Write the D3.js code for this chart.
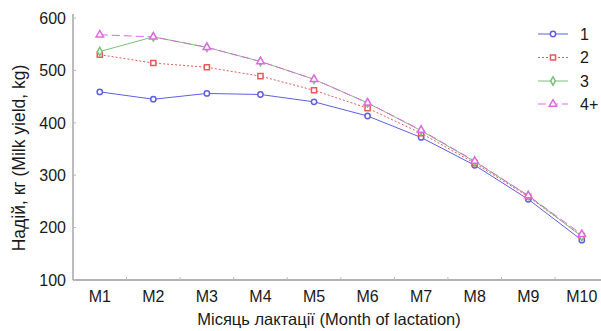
<!DOCTYPE html>
<html><head><meta charset="utf-8">
<script src="https://cdn.jsdelivr.net/npm/d3@7"></script>
<style>body{margin:0;background:#fff}svg{display:block}</style>
</head><body>
<svg id="c" width="601" height="331"></svg>
<script>
const categories = ["M1","M2","M3","M4","M5","M6","M7","M8","M9","M10"];
const seriesNames = ["1","2","3","4+"];
const s1 = [459,445,456,454,440,413,372,319,254,176];
const s2 = [530,514,506,489,462,428,380,323,259,184];
const s3 = [536,564,544,517,483,438,385,326,261,183];
const s4 = [568,564,544,517,483,438,386,327,261,187];
const yTicks = [100,200,300,400,500,600];
const colors = ["#5f5fe0","#e65a5a","#7cc07c","#e068e6"];
const dashes = [null,"2,2",null,"8,4"];
const symbols = [d3.symbolCircle,d3.symbolSquare,d3.symbolDiamond,d3.symbolTriangle];
const sizes = [22,26,20,24];
const seriesVals = [s1,s2,s3,s4];

const svg = d3.select("#c");
const font = "Liberation Sans, Arial, sans-serif";
const x = d3.scaleBand().domain(categories).range([73,608.6]);
const y = d3.scaleLinear().domain([100,600]).range([280,18]);
const cx = c => x(c) + x.bandwidth()/2;

// axes
svg.append("line").attr("x1",73).attr("x2",73).attr("y1",14).attr("y2",280).attr("stroke","#999").attr("stroke-width",1.3);
svg.append("line").attr("x1",73).attr("x2",601).attr("y1",280).attr("y2",280).attr("stroke","#999").attr("stroke-width",1.3);
categories.slice(1).forEach(c=>{
  svg.append("line").attr("x1",x(c)).attr("x2",x(c)).attr("y1",280).attr("y2",277).attr("stroke","#bbb");
});
yTicks.forEach(t=>{
  svg.append("line").attr("x1",73).attr("x2",76).attr("y1",y(t)).attr("y2",y(t)).attr("stroke","#bbb");
  svg.append("text").attr("x",66).attr("y",y(t)).attr("dy","0.36em").attr("text-anchor","end")
    .attr("font-family",font).attr("font-size",16).attr("fill","#1a1a1a").text(t);
});
categories.forEach(c=>{
  svg.append("text").attr("x",cx(c)).attr("y",302).attr("text-anchor","middle")
    .attr("font-family",font).attr("font-size",16).attr("fill","#1a1a1a").text(c);
});
svg.append("text").attr("x",329).attr("y",325).attr("text-anchor","middle")
  .attr("font-family",font).attr("font-size",16.5).attr("fill","#1a1a1a").text("Місяць лактації (Month of lactation)");
svg.append("text").attr("transform","translate(25,158) rotate(-90)").attr("text-anchor","middle")
  .attr("font-family",font).attr("font-size",17.5).attr("fill","#1a1a1a").text("Надій, кг (Milk yield, kg)");

const line = d3.line().x((d,i)=>cx(categories[i])).y(d=>y(d));
seriesVals.forEach((vals,k)=>{
  svg.append("path").attr("d",line(vals)).attr("fill","none").attr("stroke",colors[k])
    .attr("stroke-width",1).attr("stroke-dasharray",dashes[k]);
});
seriesVals.forEach((vals,k)=>{
  vals.forEach((v,i)=>{
    svg.append("path").attr("d",d3.symbol().type(symbols[k]).size(sizes[k])())
      .attr("transform",`translate(${cx(categories[i])},${y(v)})`)
      .attr("fill","#fff").attr("stroke",colors[k]).attr("stroke-width",1.5);
  });
});

// legend
const ly = [34,57.5,81,104];
seriesNames.forEach((n,k)=>{
  svg.append("line").attr("x1",538).attr("x2",568).attr("y1",ly[k]).attr("y2",ly[k])
    .attr("stroke",colors[k]).attr("stroke-width",1).attr("stroke-dasharray",dashes[k]);
  svg.append("path").attr("d",d3.symbol().type(symbols[k]).size(sizes[k])())
    .attr("transform",`translate(553,${ly[k]})`).attr("fill","#fff").attr("stroke",colors[k]).attr("stroke-width",1.5);
  svg.append("text").attr("x",580).attr("y",ly[k]).attr("dy","0.36em")
    .attr("font-family",font).attr("font-size",16).attr("fill","#1a1a1a").text(n);
});
</script>
</body></html>
